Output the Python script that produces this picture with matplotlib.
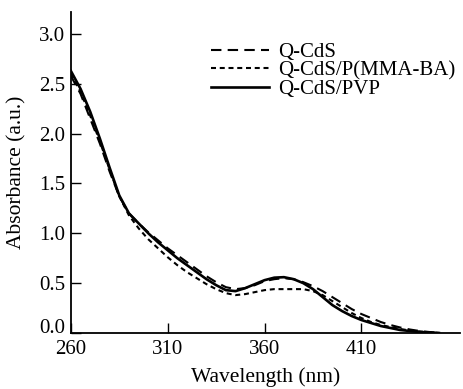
import matplotlib
matplotlib.use('Agg')
import matplotlib.pyplot as plt
import matplotlib.transforms as mtransforms

plt.rcParams['font.family'] = ['Liberation Serif', 'DejaVu Serif']

wavelength = [260, 265, 270, 275, 280, 285, 290, 295, 300, 305, 310, 315, 320,
              325, 330, 335, 340, 345, 350, 355, 360, 365, 370, 375, 380, 385,
              390, 395, 400, 405, 410, 415, 420, 425, 430, 435, 440, 445, 450]

# Q-CdS
cds = [2.58, 2.40, 2.15, 1.90, 1.62, 1.37, 1.20, 1.10, 1.01, 0.93, 0.85, 0.78, 0.71,
       0.64, 0.57, 0.51, 0.46, 0.44, 0.45, 0.48, 0.52, 0.54, 0.55, 0.54, 0.51, 0.47,
       0.42, 0.36, 0.30, 0.24, 0.19, 0.15, 0.11, 0.08, 0.055, 0.035, 0.02, 0.01, 0.003]

# Q-CdS/P(MMA-BA)
cds_pmma = [2.60, 2.42, 2.18, 1.92, 1.64, 1.37, 1.18, 1.05, 0.94, 0.85, 0.76, 0.68, 0.61,
            0.55, 0.49, 0.44, 0.40, 0.38, 0.39, 0.41, 0.43, 0.44, 0.44, 0.44, 0.44, 0.42,
            0.38, 0.32, 0.26, 0.20, 0.15, 0.11, 0.08, 0.06, 0.04, 0.025, 0.015, 0.007, 0.0]

# Q-CdS/PVP
cds_pvp = [2.63, 2.45, 2.22, 1.95, 1.66, 1.38, 1.20, 1.10, 1.00, 0.91, 0.83, 0.75, 0.68,
           0.61, 0.54, 0.48, 0.43, 0.42, 0.45, 0.49, 0.53, 0.555, 0.56, 0.54, 0.50, 0.44,
           0.36, 0.28, 0.22, 0.17, 0.13, 0.10, 0.07, 0.05, 0.03, 0.02, 0.01, 0.005, 0.0]

xticks = [260, 310, 360, 410]
yticks = [0.0, 0.5, 1.0, 1.5, 2.0, 2.5, 3.0]

fig = plt.figure(figsize=(4.63, 3.89), dpi=100)
ax = fig.add_axes([0.153, 0.144, 0.841, 0.825])

ax.plot(wavelength, cds, color='black', lw=1.5, dashes=(5, 3), label='Q-CdS')
ax.plot(wavelength, cds_pmma, color='black', lw=1.5, dashes=(2.4, 1.8), label='Q-CdS/P(MMA-BA)')
ax.plot(wavelength, cds_pvp, color='black', lw=1.9, label='Q-CdS/PVP')

ax.set_xlim(260, 461)
ax.set_ylim(0, 3.22)
ax.set_xticks(xticks)
ax.set_yticks(yticks)
ax.set_yticklabels(['%.1f' % v for v in yticks])

ax.spines['top'].set_visible(False)
ax.spines['right'].set_visible(False)
ax.spines['left'].set_linewidth(1.3)
ax.spines['bottom'].set_linewidth(1.3)
ax.tick_params(direction='in', length=7, width=1, labelsize=15, pad=4)
ax.tick_params(axis='x', pad=5)

# the "0.0" label sits a little above its tick, clear of "260"
fig.canvas.draw()
ax.get_yticklabels()[0].set_transform(
    ax.get_yticklabels()[0].get_transform()
    + mtransforms.ScaledTranslation(0, 5 / 72, fig.dpi_scale_trans))

ax.set_xlabel('Wavelength (nm)', fontsize=15.5, labelpad=6)
ax.set_ylabel('Absorbance (a.u.)', fontsize=15.5, labelpad=9)

ax.legend(loc='upper left', bbox_to_anchor=(0.36, 0.905), frameon=False, fontsize=15,
          handlelength=2.8, handletextpad=0.4, labelspacing=-0.05, borderpad=0,
          borderaxespad=0)

fig.savefig('out.png', dpi=100)
